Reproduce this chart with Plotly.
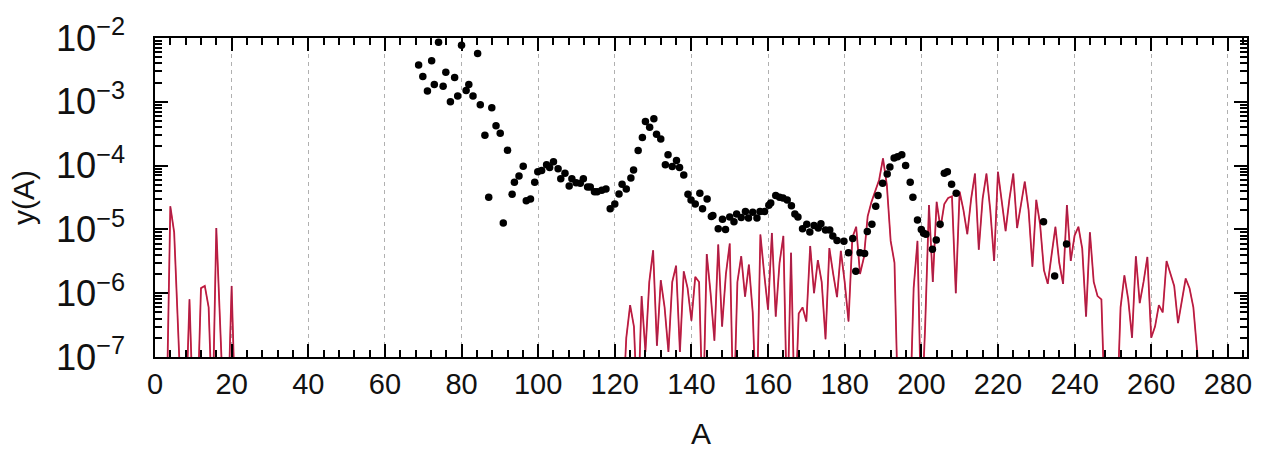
import plotly.graph_objects as go

# ---- measured yields (black points) ----
A_exp = [68.8, 69.9, 71.1, 72.2, 72.9, 74.0, 75.2, 75.9, 77.1, 78.2, 79.0, 80.0,
         81.2, 81.9, 83.0, 84.2, 84.9, 86.1, 87.1, 87.9, 89.0, 90.1, 90.9, 92.0,
         93.2, 93.8, 95.0, 96.1, 96.9, 98.0, 99.1, 99.9, 100.9, 102.2, 103.0, 104.0,
         105.2, 105.9, 107.0, 108.1, 108.8, 109.9, 111.0, 111.8, 112.9, 113.6, 114.7,
         115.4, 116.6, 117.7, 118.8, 120.0, 121.1, 121.9, 123.0, 124.2, 124.9, 126.1,
         127.2, 128.0, 129.1, 130.2, 130.9, 132.0, 133.2, 133.9, 135.0, 136.1, 136.9,
         138.0, 139.1, 139.9, 141.0, 142.2, 142.9, 144.1, 145.2, 145.6, 147.0, 148.1,
         148.9, 150.0, 151.1, 151.8, 153.0, 154.1, 154.9, 156.0, 157.1, 157.9, 159.1,
         160.2, 160.7, 162.0, 163.0, 163.9, 165.0, 166.1, 167.0, 167.8, 169.0, 170.1,
         170.9, 172.0, 173.1, 173.8, 175.0, 176.1, 176.9, 178.0, 179.8, 181.0, 182.1,
         182.9, 184.0, 185.2, 185.9, 187.1, 188.1, 188.7, 189.9, 191.1, 191.8, 192.9,
         193.8, 194.9, 195.9, 197.1, 197.8, 199.0, 200.0, 200.6, 201.2, 202.9, 203.9,
         204.9, 206.0, 206.8, 207.9, 209.1, 231.9, 234.8, 237.9]
Y_exp = [3.77e-3, 2.5e-3, 1.48e-3, 4.4e-3, 1.86e-3, 8.6e-3, 1.75e-3, 2.9e-3, 1.0e-3,
         2.4e-3, 1.23e-3, 7.7e-3, 1.5e-3, 1.86e-3, 1.23e-3, 5.7e-3, 9.0e-4, 3.0e-4,
         3.2e-5, 8.1e-4, 4.2e-4, 3.2e-4, 1.26e-5, 1.74e-4, 3.55e-5, 5.5e-5, 6.9e-5,
         9.8e-5, 2.8e-5, 3.0e-5, 5.5e-5, 8.0e-5, 8.4e-5, 1.03e-4, 9.3e-5, 1.15e-4,
         8.9e-5, 6.2e-5, 7.6e-5, 4.8e-5, 6.2e-5, 5.4e-5, 5.3e-5, 6.2e-5, 4.6e-5, 4.6e-5,
         3.9e-5, 3.9e-5, 4.1e-5, 4.3e-5, 2.1e-5, 2.5e-5, 3.6e-5, 5.1e-5, 4.3e-5, 6.4e-5,
         8.5e-5, 1.72e-4, 2.75e-4, 4.9e-4, 4.0e-4, 5.4e-4, 3.1e-4, 2.6e-4, 1.03e-4,
         1.48e-4, 9.7e-5, 1.2e-4, 9.3e-5, 7.1e-5, 3.55e-5, 2.9e-5, 2.5e-5, 3.7e-5,
         2.1e-5, 3.0e-5, 1.6e-5, 1.65e-5, 1.02e-5, 1.44e-5, 1.0e-5, 1.56e-5, 1.32e-5,
         1.74e-5, 1.53e-5, 1.9e-5, 1.51e-5, 1.85e-5, 1.51e-5, 1.9e-5, 1.9e-5, 2.4e-5,
         2.6e-5, 3.4e-5, 3.2e-5, 3.1e-5, 2.9e-5, 2.35e-5, 1.74e-5, 1.56e-5, 1.02e-5,
         1.2e-5, 9.1e-6, 1.15e-5, 1.05e-5, 1.23e-5, 9.8e-6, 9.8e-6, 7.9e-6, 6.7e-6,
         6.5e-6, 4.3e-6, 7.2e-6, 2.2e-6, 4.3e-6, 4.2e-6, 9.3e-6, 1.2e-5, 2.3e-5, 3.4e-5,
         5.3e-5, 7.4e-5, 9.5e-5, 1.32e-4, 1.38e-4, 1.48e-4, 1.0e-4, 5.5e-5, 3.2e-5,
         1.4e-5, 1.0e-5, 8.7e-6, 8.4e-6, 4.9e-6, 6.8e-6, 1.2e-5, 7.6e-5, 8.0e-5, 5.1e-5,
         3.7e-5, 1.32e-5, 1.86e-6, 5.9e-6]

# ---- calculated yields (red curve), one value per mass number ----
# light-fragment group, A = 3..21
A_light = list(range(3, 22))
Y_light = [1e-8, 2.3e-5, 9e-6, 5e-7, 1e-8, 1e-8, 8e-7, 1e-8, 1e-8, 1.2e-6,
           1.3e-6, 6e-7, 1e-8, 1.05e-5, 3e-7, 1e-8, 1e-8, 1.3e-6, 1e-8]

# heavy group, A = 120..273
A_heavy = list(range(120, 274))
Y_heavy = [
    1e-8, 1e-8, 1e-8, 2e-7, 6.5e-7, 3e-7, 1e-8, 9e-7, 1.2e-7, 1.5e-6,      # 120-129
    4.7e-6, 1.5e-7, 1.6e-6, 6e-7, 1.2e-7, 1.5e-6, 2.7e-6, 1.2e-7, 2.2e-6, 1.2e-6,  # 130-139
    3.7e-7, 1.8e-6, 1.5e-6, 1e-8, 4.1e-6, 1e-6, 1.8e-7, 5.8e-6, 3e-7, 2e-6,  # 140-149
    6e-6, 1e-8, 1.5e-6, 3.8e-6, 8.8e-7, 2.8e-6, 5e-7, 1e-8, 8.3e-6, 2e-6,    # 150-159
    5.5e-7, 8.8e-6, 4.3e-7, 3e-6, 7.9e-6, 1e-8, 4.3e-6, 1e-8, 4.8e-7, 6e-7,  # 160-169
    3.6e-7, 5.5e-6, 1e-6, 3.3e-6, 1.5e-6, 1.9e-7, 5.1e-6, 2e-6, 8.7e-7, 4.6e-6,  # 170-179
    1.5e-6, 3.6e-7, 7.4e-6, 1.1e-5, 2e-6, 3.6e-6, 1.6e-5, 2.7e-5, 3.9e-5, 6e-5,  # 180-189
    1.3e-4, 5e-5, 6.6e-6, 3e-6, 1e-8, 1e-8, 1e-8, 1e-8, 1.2e-6, 6.6e-6,      # 190-199
    1e-8, 3e-7, 2.4e-5, 1.5e-6, 2.7e-5, 1.05e-5, 2.5e-5, 3.1e-5, 3.3e-5, 1e-6,  # 200-209
    3.9e-5, 2e-5, 8.4e-6, 3e-5, 7.5e-5, 4.8e-6, 3e-5, 7.5e-5, 2e-5, 3.2e-6,  # 210-219
    8e-5, 3e-5, 9.4e-6, 3e-5, 7.5e-5, 1.05e-5, 2.5e-5, 5.6e-5, 2e-5, 2.6e-6,  # 220-229
    2.9e-5, 1.2e-5, 2.3e-6, 1.4e-6, 4e-6, 1.1e-5, 3e-6, 1.4e-6, 2.4e-5, 3.2e-6,  # 230-239
    8e-6, 1.1e-5, 5e-6, 4.3e-7, 9e-6, 1.5e-6, 9e-7, 8e-7, 1e-8, 1e-8,        # 240-249
    1e-8, 1e-8, 6e-7, 1.9e-6, 8e-7, 2e-7, 3.8e-6, 7e-7, 1.5e-6, 3.7e-6,      # 250-259
    2e-7, 3e-7, 6.5e-7, 5e-7, 3.2e-6, 2e-6, 1.3e-6, 3.4e-7, 8e-7, 1.7e-6,    # 260-269
    1.2e-6, 6e-7, 1.2e-7, 1e-8,                                              # 270-273
]

x_ticks = list(range(0, 281, 20))
FONT = "Liberation Sans, Arial, sans-serif"

fig = go.Figure()

# model curve: crimson line with a darker core
for xs, ys in ((A_light, Y_light), (A_heavy, Y_heavy)):
    fig.add_trace(go.Scatter(x=xs, y=ys, mode="lines",
                             line=dict(color="#e0203c", width=1.8),
                             showlegend=False, hoverinfo="skip"))
    fig.add_trace(go.Scatter(x=xs, y=ys, mode="lines",
                             line=dict(color="#8a2050", width=0.7),
                             showlegend=False, hoverinfo="skip"))

fig.add_trace(go.Scatter(x=A_exp, y=Y_exp, mode="markers",
                         marker=dict(color="black", size=7.5, symbol="circle"),
                         showlegend=False))

axis_common = dict(
    showline=True, linecolor="black", linewidth=2, mirror="allticks",
    ticks="inside", tickcolor="black", tickwidth=1.5,
    tickfont=dict(family=FONT, size=29, color="#111"),
    zeroline=False,
)

fig.update_xaxes(
    **axis_common,
    range=[0, 285], tickvals=x_ticks, ticklen=13,
    showgrid=True, gridcolor="#b0b0b0", griddash="4px,4px", gridwidth=1,
    minor=dict(ticks="inside", ticklen=7, dtick=4, tick0=0,
               tickcolor="black", showgrid=False),
    title=dict(text="A", font=dict(family=FONT, size=30, color="#111"), standoff=24),
)

fig.update_yaxes(
    **axis_common,
    type="log", range=[-7, -2], dtick=1, exponentformat="power",
    ticklen=13, showgrid=False, ticklabelstandoff=22,
    minor=dict(ticks="inside", ticklen=7, dtick="D1",
               tickcolor="black", showgrid=False),
    title=dict(text="y(A)", font=dict(family=FONT, size=30, color="#111"), standoff=12),
)

fig.update_layout(
    width=1264, height=465,
    margin=dict(l=155, r=12, t=35, b=108),
    paper_bgcolor="white", plot_bgcolor="white",
    font=dict(family=FONT),
)

fig.write_html("out.html")
